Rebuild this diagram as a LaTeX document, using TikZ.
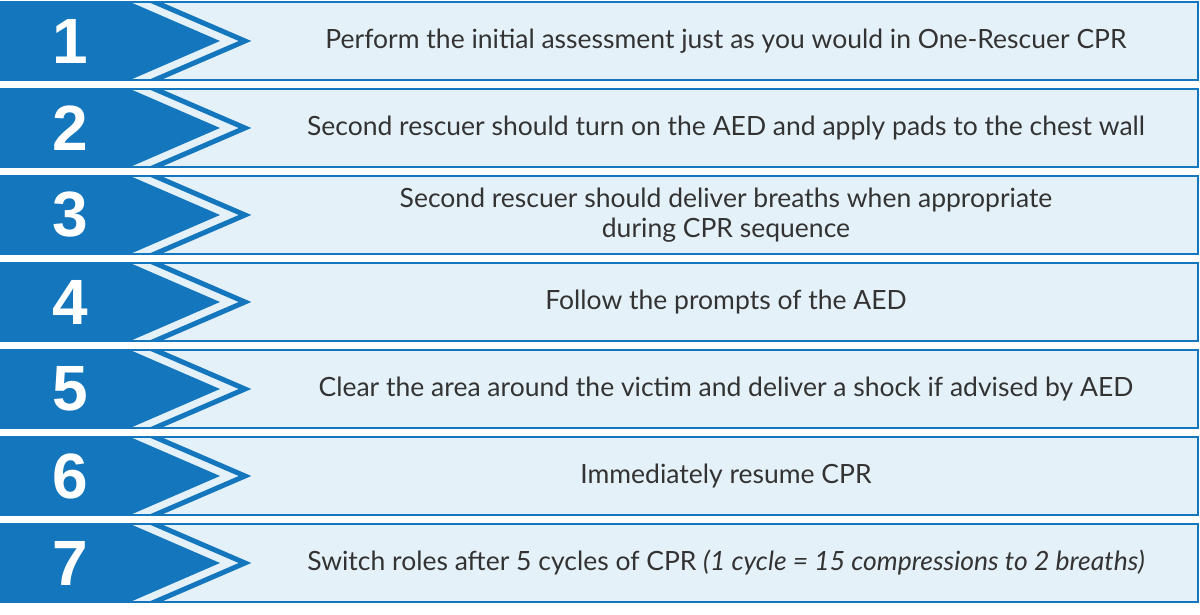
\documentclass[tikz,border=0pt]{standalone}
\usepackage{fontspec}
\setmainfont{Lato}
\newfontfamily\numfont{Liberation Sans}
\definecolor{dblue}{HTML}{1477BE}
\definecolor{lblue}{HTML}{E5F1F9}
\tikzset{
 rowbox/.style={draw=dblue,line width=1.6pt,fill=lblue},
 numfill/.style={fill=dblue},
 chev/.style={draw=dblue,line width=5pt,line join=miter},
 numtxt/.style={text=white,font=\numfont\bfseries\fontsize{64}{64}\selectfont},
 steptxt/.style={text=black!80,font=\fontsize{26.5}{30}\selectfont,align=center}
}
\begin{document}
\begin{tikzpicture}[x=1pt,y=1pt]
\useasboundingbox (0,0) rectangle (1200,615);
\foreach \i/\t in {1/{Perform the initial assessment just as you would in One-Rescuer CPR},
 2/{Second rescuer should turn on the AED and apply pads to the chest wall},
 3/{Second rescuer should deliver breaths when appropriate\\during CPR sequence},
 4/{Follow the prompts of the AED},
 5/{Clear the area around the victim and deliver a shock if advised by AED},
 6/{Immediately resume CPR},
 7/{Switch roles after 5 cycles of CPR \textit{(1 cycle = 15 compressions to 2 breaths)}}}{
 \pgfmathsetmacro{\top}{613-87*(\i-1)}
 \pgfmathsetmacro{\bot}{\top-78}
 \pgfmathsetmacro{\mid}{\top-39}
 \draw[rowbox] (0,\bot) rectangle (1198,\top);
 \fill[numfill] (0,\bot) -- (130,\bot) -- (220,\mid) -- (130,\top) -- (0,\top) -- cycle;
 \begin{scope}
 \clip (0,\bot) rectangle (1198,\top);
 \draw[chev] (150,\top+2) -- (245,\mid) -- (150,\bot-2);
 \end{scope}
 \node[numtxt] (n\i) at (70,\mid) {\i};
 \node[steptxt] (s\i) at (726,\mid) {\t};
}
\end{tikzpicture}
\end{document}
